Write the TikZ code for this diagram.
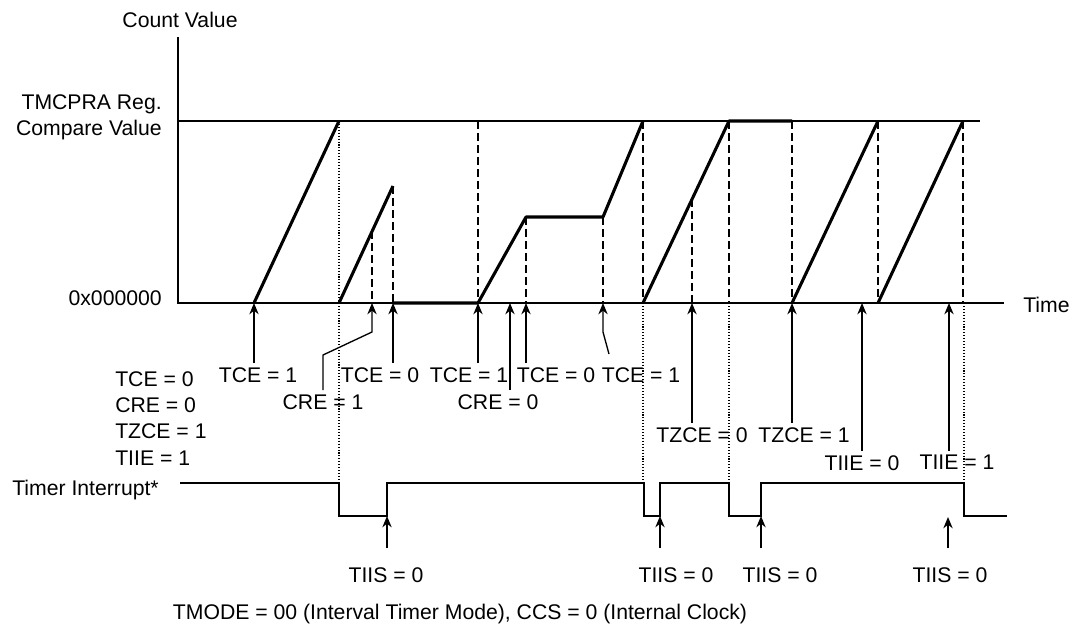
\documentclass[tikz,border=0pt]{standalone}
\usepackage{fontspec}
\setmainfont{Liberation Sans}
\usetikzlibrary{arrows.meta,calc}

\begin{document}
\begin{tikzpicture}[
  x=0.75pt,y=-0.75pt,
  font=\fontsize{15.9}{19.8}\selectfont,
  lbl/.style={inner sep=3pt,anchor=north},
  axis/.style={line width=1.1pt},
  cmp/.style={line width=0.8pt},
  cnt/.style={line width=2.3pt,line join=round},
  guide/.style={line width=0.9pt,dash pattern=on 6pt off 3pt},
  fine/.style={line width=0.8pt,dash pattern=on 0.8pt off 1.4pt},
  intr/.style={line width=1.3pt},
  trig/.style={-{Stealth[length=8.5pt,width=7pt]},line width=1pt}
]
\useasboundingbox (0,0) rectangle (1077,628);

% axes and compare level
\draw[axis] (178,37) -- (178,303) -- (1004,303);
\draw[cmp] (178,121) -- (980,121);
\node (cnt) at (180,20) {Count Value};
\node[anchor=east,align=right,inner sep=3pt] (cmpv) at (166,117) {TMCPRA Reg.\\Compare Value};
\node[anchor=east,inner sep=3pt] (zero) at (166,298) {0x000000};
\node[anchor=west,inner sep=3pt] (time) at (1019,305) {Time};

% counter
\draw[cnt] (254,303) -- (339,121);
\draw[cnt] (339,303) -- (393,186);
\draw[cnt] (393,303) -- (478,303) -- (526,217) -- (603,217) -- (643,121);
\draw[cnt] (643,303) -- (729,121) -- (792,121);
\draw[cnt] (792,303) -- (878,121);
\draw[cnt] (878,303) -- (963,121);

\foreach \x in {478,643,729,792,878,963}
  \draw[guide] (\x,121) -- (\x,303);
\draw[guide] (372,231) -- (372,303);
\draw[guide] (393,186) -- (393,303);
\draw[guide] (526,217) -- (526,303);
\draw[guide] (603,217) -- (603,303);
\draw[guide] (692,199) -- (692,303);

\draw[fine] (339,121) -- (339,483);
\foreach \x in {643,729,964}
  \draw[fine] (\x,303) -- (\x,483);

% interrupt line
\node[anchor=base west,inner sep=3pt] (irq) at (8,495) {Timer Interrupt*};
\draw[intr] (180,483) -- (339,483) |- (387,516) |- (644,483) |- (660,516)
  |- (729,483) |- (761,516) |- (964,483) |- (1007,516);

\foreach \n/\x in {a/254,b/372,c/393,d/478,e/510,f/526,g/603,h/692,k/792,m/862,n/949}
  \coordinate (\n) at (\x,303);
\foreach \n/\x/\y in {j1/387/516,j2/660/516,j3/761/516,j4/948/517}
  \coordinate (\n) at (\x,\y);

\node[anchor=north west,align=left,inner sep=3pt] (init) at (111,367)
  {TCE = 0\\CRE = 0\\TZCE = 1\\TIIE = 1};

\node[lbl] (tce1) at (258,363) {TCE = 1};
\draw[trig] (tce1.north -| a) -- (a);
\node[lbl] (cre1) at (323,390) {CRE = 1};
\draw[trig] (cre1.north) -- ++(0,-35) -- ($(b)+(0,29)$) -- (b);
\node[lbl] (tce2) at (380,363) {TCE = 0};
\draw[trig] (tce2.north -| c) -- (c);
\node[lbl] (tce3) at (469,363) {TCE = 1};
\draw[trig] (tce3.north -| d) -- (d);
\node[lbl] (cre2) at (498,390) {CRE = 0};
\draw[trig] (cre2.north -| e) -- (e);
\node[lbl] (tce4) at (556,363) {TCE = 0};
\draw[trig] (tce4.north -| f) -- (f);
\node[lbl] (tce5) at (641,363) {TCE = 1};
\draw[trig] ($(g)+(6,51)$) -- ($(g)+(0,29)$) -- (g);
\node[lbl] (tzce1) at (702,423) {TZCE = 0};
\draw[trig] (tzce1.north -| h) -- (h);
\node[lbl] (tzce2) at (804,423) {TZCE = 1};
\draw[trig] (tzce2.north -| k) -- (k);
\node[lbl] (tiie1) at (862,451) {TIIE = 0};
\draw[trig] (tiie1.north -| m) -- (m);
\node[lbl] (tiie2) at (957,451) {TIIE = 1};
\draw[trig] (tiie2.north -| n) -- (n);

\node[lbl] (tiis1) at (386,563) {TIIS = 0};
\draw[trig,shorten <=11pt] (tiis1.north -| j1) -- (j1);
\node[lbl] (tiis2) at (676,563) {TIIS = 0};
\draw[trig,shorten <=11pt] (tiis2.north -| j2) -- (j2);
\node[lbl] (tiis3) at (780,563) {TIIS = 0};
\draw[trig,shorten <=11pt] (tiis3.north -| j3) -- (j3);
\node[lbl] (tiis4) at (950,563) {TIIS = 0};
\draw[trig,shorten <=11pt] (tiis4.north -| j4) -- (j4);

\node[lbl] (mode) at (460,600) {TMODE = 00 (Interval Timer Mode), CCS = 0 (Internal Clock)};
\end{tikzpicture}
\end{document}
